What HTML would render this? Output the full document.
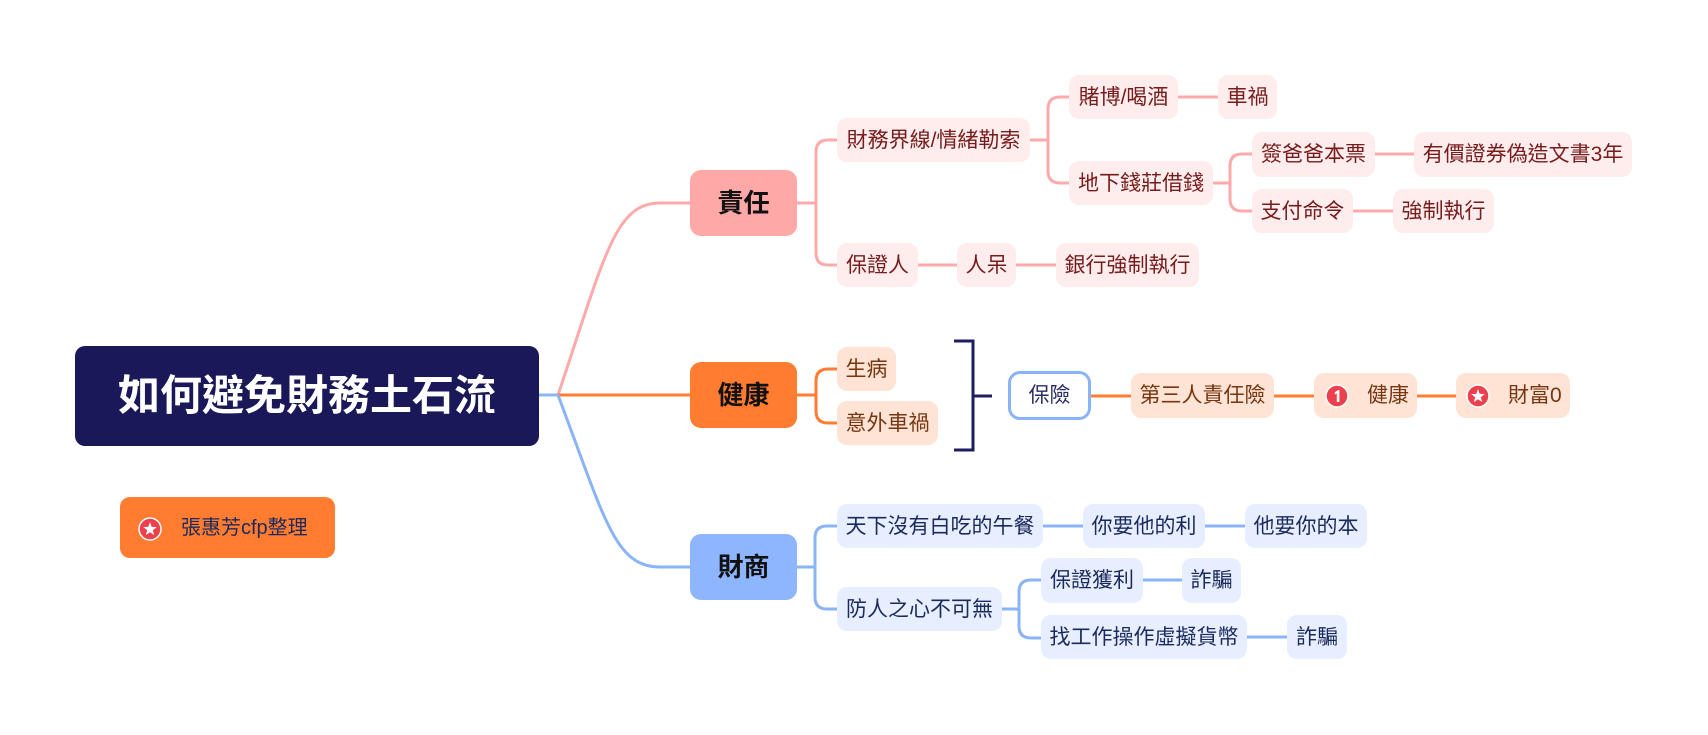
<!DOCTYPE html>
<html><head><meta charset="utf-8">
<style>
html,body{margin:0;padding:0;background:#fff;}
body{width:1708px;height:735px;position:relative;overflow:hidden;font-family:"Liberation Sans","Noto Sans CJK TC",sans-serif;}
.n{position:absolute;display:flex;align-items:center;justify-content:center;box-sizing:border-box;border-radius:10px;font-size:21px;line-height:1;white-space:nowrap;}
.r{background:#ffeded;color:#761c1c;}
.h{background:#ffe4d5;color:#763611;}
.f{background:#e7eeff;color:#1b2a5c;}
.l1{font-size:26px;font-weight:bold;color:#111;border-radius:11px;}
svg{position:absolute;left:0;top:0;}
.ic{position:absolute;}
</style></head><body>
<svg width="1708" height="735" viewBox="0 0 1708 735" fill="none" stroke-linecap="butt">
<g stroke="#ffaaaa" stroke-width="3">
<path d="M558,395 C605,255 615,203 660,203 H690"/>
<path d="M797,203 H816"/>
<path d="M837,140 H828 Q816,140 816,152 V253 Q816,265 828,265 H837"/>
<path d="M1030,140 H1048"/>
<path d="M1069,97 H1060 Q1048,97 1048,109 V171 Q1048,183 1060,183 H1069"/>
<path d="M1178,97 H1218"/>
<path d="M1213,183 H1230"/>
<path d="M1252,154 H1242 Q1230,154 1230,166 V199 Q1230,211 1242,211 H1252"/>
<path d="M1375,154 H1414"/>
<path d="M1353,211 H1393"/>
<path d="M918,265 H957"/>
<path d="M1016,265 H1056"/>
</g>
<g stroke="#ff7c31" stroke-width="3">
<path d="M558,395 H690"/>
<path d="M797,395 H816"/>
<path d="M837,369 H828 Q816,369 816,381 V411 Q816,423 828,423 H837"/>
<path d="M1091,396 H1131"/>
<path d="M1274,396 H1314"/>
<path d="M1417,396 H1456"/>
</g>
<g stroke="#1e1e5e" stroke-width="3">
<path d="M954,341 H973 V450 H954"/>
<path d="M973,396 H992"/>
</g>
<g stroke="#8ab4f8" stroke-width="3">
<path d="M539,395 H558"/>
<path d="M558,395 C605,520 615,567 660,567 H690"/>
<path d="M797,567 H815"/>
<path d="M837,526 H827 Q815,526 815,538 V597 Q815,609 827,609 H837"/>
<path d="M1043,526 H1083"/>
<path d="M1205,526 H1245"/>
<path d="M1002,609 H1019"/>
<path d="M1041,580 H1031 Q1019,580 1019,592 V626 Q1019,638 1031,638 H1041"/>
<path d="M1143,580 H1182"/>
<path d="M1247,637 H1287"/>
</g>
</svg>

<!-- root -->
<div class="n" style="left:75px;top:346px;width:464px;height:100px;background:#1b1859;color:#fff;font-size:42px;font-weight:bold;">如何避免財務土石流</div>

<!-- note -->
<div class="n" style="left:120px;top:497px;width:215px;height:61px;background:#ff7c31;color:#1e2a5a;justify-content:flex-start;padding-left:61px;font-size:20px;">張惠芳cfp整理</div>
<svg class="ic" style="left:138px;top:517px;" width="24" height="24" viewBox="0 0 24 24"><circle cx="12" cy="12" r="11" fill="#ee3f4c" stroke="#fff" stroke-width="1.5"/><path d="M12,5 L13.7,9.9 L18.8,10 L14.8,13.2 L16.2,18.1 L12,15.2 L7.8,18.1 L9.2,13.2 L5.2,10 L10.3,9.9 Z" fill="#fff"/></svg>

<!-- level 1 -->
<div class="n l1" style="left:690px;top:170px;width:107px;height:66px;background:#ffa8a8;">責任</div>
<div class="n l1" style="left:690px;top:362px;width:107px;height:66px;background:#ff7c31;">健康</div>
<div class="n l1" style="left:690px;top:534px;width:107px;height:66px;background:#8db6ff;">財商</div>

<!-- responsibility -->
<div class="n r" style="left:837px;top:118px;width:193px;height:44px;">財務界線/情緒勒索</div>
<div class="n r" style="left:837px;top:243px;width:81px;height:44px;">保證人</div>
<div class="n r" style="left:1069px;top:75px;width:109px;height:44px;">賭博/喝酒</div>
<div class="n r" style="left:1069px;top:161px;width:144px;height:44px;">地下錢莊借錢</div>
<div class="n r" style="left:1218px;top:75px;width:59px;height:44px;">車禍</div>
<div class="n r" style="left:1252px;top:132px;width:123px;height:45px;">簽爸爸本票</div>
<div class="n r" style="left:1252px;top:189px;width:101px;height:44px;">支付命令</div>
<div class="n r" style="left:1414px;top:132px;width:218px;height:45px;">有價證券偽造文書3年</div>
<div class="n r" style="left:1393px;top:189px;width:101px;height:44px;">強制執行</div>
<div class="n r" style="left:957px;top:243px;width:59px;height:44px;">人呆</div>
<div class="n r" style="left:1056px;top:243px;width:143px;height:44px;">銀行強制執行</div>

<!-- health -->
<div class="n h" style="left:837px;top:347px;width:59px;height:44px;">生病</div>
<div class="n h" style="left:837px;top:401px;width:101px;height:44px;">意外車禍</div>
<div class="n" style="left:1008px;top:371px;width:83px;height:49px;background:#fff;border:3px solid #8ab4f8;border-radius:12px;color:#2a2d66;">保險</div>
<div class="n h" style="left:1131px;top:373px;width:143px;height:45px;">第三人責任險</div>
<div class="n h" style="left:1314px;top:373px;width:103px;height:45px;justify-content:flex-start;padding-left:53px;">健康</div>
<svg class="ic" style="left:1325px;top:384px;" width="24" height="24" viewBox="0 0 24 24"><circle cx="12" cy="12" r="11" fill="#ee3f4c" stroke="#fff" stroke-width="1.5"/><path d="M9.8,8.2 L13.3,6 L14.4,6 L14.4,18 L11.8,18 L11.8,9.4 L9.8,10.6 Z" fill="#fff"/></svg>
<div class="n h" style="left:1456px;top:373px;width:114px;height:45px;justify-content:flex-start;padding-left:52px;">財富0</div>
<svg class="ic" style="left:1466px;top:384px;" width="24" height="24" viewBox="0 0 24 24"><circle cx="12" cy="12" r="11" fill="#ee3f4c" stroke="#fff" stroke-width="1.5"/><path d="M12,5 L13.7,9.9 L18.8,10 L14.8,13.2 L16.2,18.1 L12,15.2 L7.8,18.1 L9.2,13.2 L5.2,10 L10.3,9.9 Z" fill="#fff"/></svg>

<!-- finance -->
<div class="n f" style="left:837px;top:504px;width:206px;height:44px;">天下沒有白吃的午餐</div>
<div class="n f" style="left:837px;top:587px;width:165px;height:44px;">防人之心不可無</div>
<div class="n f" style="left:1083px;top:504px;width:122px;height:44px;">你要他的利</div>
<div class="n f" style="left:1245px;top:504px;width:122px;height:44px;">他要你的本</div>
<div class="n f" style="left:1041px;top:558px;width:102px;height:45px;">保證獲利</div>
<div class="n f" style="left:1041px;top:615px;width:206px;height:44px;">找工作操作虛擬貨幣</div>
<div class="n f" style="left:1182px;top:558px;width:59px;height:45px;">詐騙</div>
<div class="n f" style="left:1287px;top:615px;width:60px;height:44px;">詐騙</div>
</body></html>
